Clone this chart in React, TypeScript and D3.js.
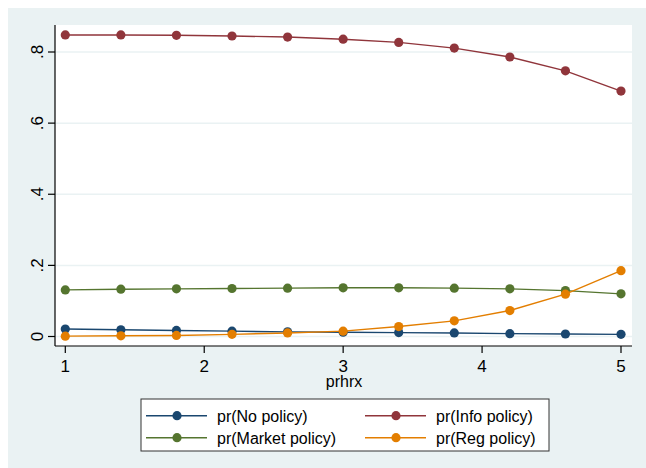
import * as d3 from 'd3';

// prhrx grid and predicted probabilities
const xs = [1, 1.4, 1.8, 2.2, 2.6, 3, 3.4, 3.8, 4.2, 4.6, 5];
const noPolicy = [0.021, 0.019, 0.017, 0.015, 0.013, 0.012, 0.011, 0.010, 0.008, 0.007, 0.006];
const infoPolicy = [0.848, 0.848, 0.847, 0.845, 0.842, 0.836, 0.827, 0.811, 0.786, 0.747, 0.690];
const marketPolicy = [0.131, 0.133, 0.134, 0.135, 0.136, 0.137, 0.137, 0.136, 0.134, 0.129, 0.120];
const regPolicy = [0.001, 0.002, 0.003, 0.006, 0.010, 0.015, 0.028, 0.044, 0.073, 0.119, 0.185];

const yTicks = [0, 0.2, 0.4, 0.6, 0.8];
const yTickLabels = ['0', '.2', '.4', '.6', '.8'];
const xTicks = [1, 2, 3, 4, 5];

const series = [
  { name: 'pr(No policy)', values: noPolicy, color: '#1a476f' },
  { name: 'pr(Info policy)', values: infoPolicy, color: '#90353b' },
  { name: 'pr(Market policy)', values: marketPolicy, color: '#55752f' },
  { name: 'pr(Reg policy)', values: regPolicy, color: '#e37e00' },
];

const BG = '#eaf2f3';
const FONT = 'Liberation Sans, Arial, sans-serif';

export default function App() {
  const W = 646;
  const H = 468;
  // plot region (page coords)
  const plot = { left: 55, right: 632, top: 25, bottom: 346 };

  const x = d3.scaleLinear().domain([1, 5]).range([65.3, 621]);
  const y = d3.scaleLinear().domain([0, 0.8]).range([336.5, 52]);

  const line = d3.line<number>()
    .x((_, i) => x(xs[i]))
    .y(d => y(d));

  const legend = { x: 141, y: 399, w: 408, h: 52 };
  const legendCols = [146, 365];
  const legendRows = [415.7, 437.7];

  return (
    <svg width={W} height={H} style={{ position: 'absolute', left: 0, top: 0, display: 'block' }}>
      <rect x={8} y={8} width={W - 8} height={H - 8} fill={BG} />
      <rect x={plot.left} y={plot.top} width={plot.right - plot.left} height={plot.bottom - plot.top} fill="#fff" />

      {/* gridlines */}
      {yTicks.map(t => (
        <line key={t} x1={plot.left} x2={plot.right} y1={y(t)} y2={y(t)} stroke={BG} strokeWidth={1.5} />
      ))}

      {/* axes */}
      <line x1={plot.left} x2={plot.left} y1={plot.top} y2={plot.bottom} stroke="#000" strokeWidth={1.2} />
      <line x1={plot.left} x2={plot.right} y1={plot.bottom} y2={plot.bottom} stroke="#000" strokeWidth={1.2} />

      {yTicks.map((t, i) => (
        <g key={t}>
          <line x1={plot.left - 7} x2={plot.left} y1={y(t)} y2={y(t)} stroke="#000" strokeWidth={1.2} />
          <text
            transform={`translate(${plot.left - 12},${y(t)}) rotate(-90)`}
            textAnchor="middle"
            fontFamily={FONT}
            fontSize={17}
            fill="#000"
          >
            {yTickLabels[i]}
          </text>
        </g>
      ))}

      {xTicks.map(t => (
        <g key={t}>
          <line x1={x(t)} x2={x(t)} y1={plot.bottom} y2={plot.bottom + 7} stroke="#000" strokeWidth={1.2} />
          <text x={x(t)} y={plot.bottom + 25.5} textAnchor="middle" fontFamily={FONT} fontSize={17} fill="#000">
            {t}
          </text>
        </g>
      ))}
      <text x={(plot.left + plot.right) / 2 + 0.5} y={386.5} textAnchor="middle" fontFamily={FONT} fontSize={16} fill="#000">
        prhrx
      </text>

      {/* series */}
      {series.map(s => (
        <g key={s.name}>
          <path d={line(s.values) || ''} fill="none" stroke={s.color} strokeWidth={1.4} />
          {s.values.map((v, i) => (
            <circle key={i} cx={x(xs[i])} cy={y(v)} r={4.6} fill={s.color} />
          ))}
        </g>
      ))}

      {/* legend */}
      <rect x={legend.x} y={legend.y} width={legend.w} height={legend.h} fill="#fff" stroke="#333" strokeWidth={1} />
      {series.map((s, i) => {
        const lx = legendCols[i % 2];
        const ly = legendRows[Math.floor(i / 2)];
        return (
          <g key={s.name}>
            <line x1={lx} x2={lx + 61} y1={ly} y2={ly} stroke={s.color} strokeWidth={1.4} />
            <circle cx={lx + 31} cy={ly} r={4.6} fill={s.color} />
            <text x={lx + 71} y={ly + 6} fontFamily={FONT} fontSize={16} fill="#000">
              {s.name}
            </text>
          </g>
        );
      })}
    </svg>
  );
}
